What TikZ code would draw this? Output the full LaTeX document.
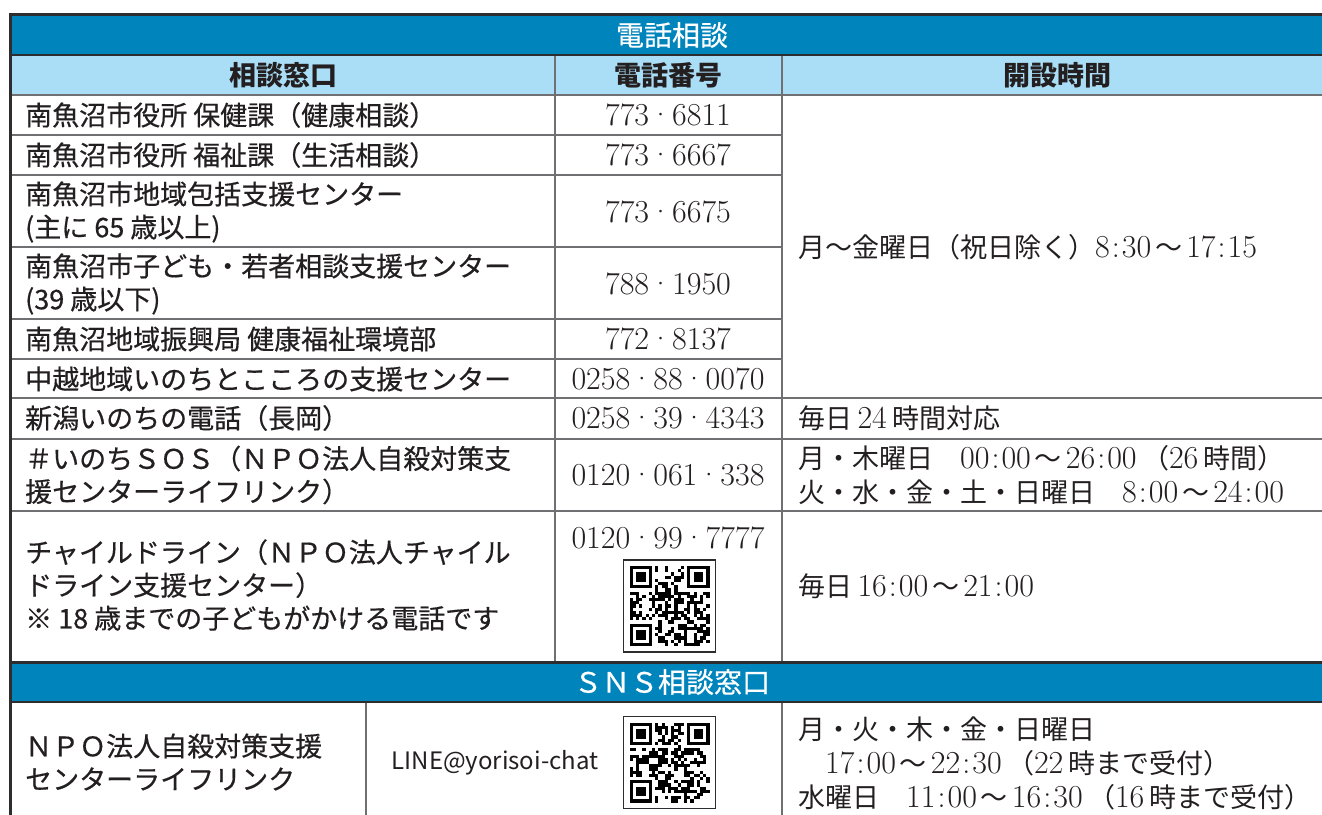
\documentclass[tikz,border=0pt]{standalone}
\usepackage{fontspec}
\newfontfamily\jpfont{Noto Sans CJK JP}
\newfontfamily\jpmed{Noto Sans CJK JP}[FakeBold=0.5]
\newcommand\jtxt[1]{{\jpfont\fontsize{27}{34}\selectfont #1}}
\newcommand\tcol{\kern2pt:\kern2pt}
\newcommand\tto{\kern4pt\jtxt{～}\kern4pt}
\definecolor{HeadClr}{RGB}{0,132,188}
\definecolor{SubHeadClr}{RGB}{170,222,247}
\definecolor{RuleClr}{RGB}{112,112,114}
\definecolor{EdgeClr}{RGB}{45,45,48}
\definecolor{InkClr}{RGB}{35,31,32}

\tikzset{
  pics/qrcode/.style={code={
    \draw[draw=EdgeClr,line width=1.2pt,fill=white] (-46,-46) rectangle (46,46);
    \foreach \i in {0,...,24}{
      \foreach \j in {0,...,24}{
        \pgfmathsetmacro\qrval{rnd}
        \pgfmathtruncatemacro\qrskip{((\i<8)&&(\j<8))||((\i>16)&&(\j<8))||((\i<8)&&(\j>16))}
        \ifnum\qrskip=0 \ifdim\qrval pt<0.5pt
          \fill[black] (-40+3.2*\i,-40+3.2*\j) rectangle ++(3.2,3.2);
        \fi\fi
      }
    }
    \foreach \a/\b in {0/0,18/0,0/18}{
      \fill[black] (-40+3.2*\a,-40+3.2*\b) rectangle ++(22.4,22.4);
      \fill[white] (-36.8+3.2*\a,-36.8+3.2*\b) rectangle ++(16,16);
      \fill[black] (-33.6+3.2*\a,-33.6+3.2*\b) rectangle ++(9.6,9.6);
    }
  }}
}

\begin{document}
\begin{tikzpicture}[x=1pt,y=-1pt,
  every node/.style={inner sep=0pt,text=InkClr},
  cell/.style={anchor=west,align=left,font=\jpmed\fontsize{27}{33}\selectfont},
  num/.style={font=\fontsize{32}{36}\selectfont},
  hours/.style={anchor=west,align=left,font=\fontsize{32}{34}\selectfont},
  headtxt/.style={font=\jpfont\bfseries\fontsize{27}{30}\selectfont},
  bandtxt/.style={text=white,font=\jpmed\fontsize{28}{30}\selectfont},
  rule/.style={draw=RuleClr,line width=2pt},
  edge/.style={draw=EdgeClr,line width=#1},
  edge/.default=2pt]
\useasboundingbox (0,0) rectangle (1322,814);

\fill[HeadClr] (10,14) rectangle (1332,55);
\fill[SubHeadClr] (10,55) rectangle (1332,95);
\fill[HeadClr] (10,662) rectangle (1332,702);

\node[bandtxt] (phone-title) at (672,35) {電話相談};
\node[headtxt] (h-window) at (283,75) {相談窓口};
\node[headtxt] (h-number) at (668,75) {電話番号};
\node[headtxt] (h-hours) at (1057,75) {開設時間};

\node[cell] (w1) at (25,115) {南魚沼市役所 保健課（健康相談）};
\node[cell] (w2) at (25,155) {南魚沼市役所 福祉課（生活相談）};
\node[cell] (w3) at (25,212) {南魚沼市地域包括支援センター\\(主に 65 歳以上)};
\node[cell] (w4) at (25,284) {南魚沼市子ども・若者相談支援センター\\(39 歳以下)};
\node[cell] (w5) at (25,339) {南魚沼地域振興局 健康福祉環境部};
\node[cell] (w6) at (25,379) {中越地域いのちとこころの支援センター};
\node[cell] (w7) at (25,418) {新潟いのちの電話（長岡）};
\node[cell] (w8) at (25,475) {＃いのちＳＯＳ（ＮＰＯ法人自殺対策支\\援センターライフリンク）};
\node[cell] (w9) at (25,585) {チャイルドライン（ＮＰＯ法人チャイル\\ドライン支援センター）\\※ 18 歳までの子どもがかける電話です};

\node[num] (p1) at (668,115) {773·6811};
\node[num] (p2) at (668,155) {773·6667};
\node[num] (p3) at (668,212) {773·6675};
\node[num] (p4) at (668,284) {788·1950};
\node[num] (p5) at (668,339) {772·8137};
\node[num] (p6) at (668,379) {0258·88·0070};
\node[num] (p7) at (668,418) {0258·39·4343};
\node[num] (p8) at (668,475) {0120·061·338};
\node[num] (p9) at (668,538) {0120·99·7777};
\pic (qr-child) at (669.5,606) {qrcode};

\node[hours] (t1) at (798,247) {\jtxt{月～金曜日（祝日除く）}8\tcol30\tto17\tcol15};
\node[hours] (t2) at (798,418) {\jtxt{毎日}\,24\,\jtxt{時間対応}};
\node[hours] (t3) at (798,475) {\jtxt{月・木曜日　}00\tcol00\tto26\tcol00\,\jtxt{（}26\,\jtxt{時間）}\\\jtxt{火・水・金・土・日曜日　}8\tcol00\tto24\tcol00};
\node[hours] (t4) at (798,586) {\jtxt{毎日}\,16\tcol00\tto21\tcol00};

\node[bandtxt] (sns-title) at (672,682) {ＳＮＳ相談窓口};
\node[cell] (sns-name) at (25,762) {ＮＰＯ法人自殺対策支援\\センターライフリンク};
\node[font=\jpfont\fontsize{24}{26}\selectfont] (sns-line) at (495,763) {LINE@yorisoi-chat};
\pgfmathsetseed{41}
\pic (qr-sns) at (669.5,762.5) {qrcode};
\node[hours] (sns-hours) at (798,763) {\jtxt{月・火・木・金・日曜日}\\\jtxt{　}17\tcol00\tto22\tcol30\,\jtxt{（}22\,\jtxt{時まで受付）}\\\jtxt{水曜日　}11\tcol00\tto16\tcol30\,\jtxt{（}16\,\jtxt{時まで受付）}};

\draw[rule] (10,95) -- (1332,95);
\foreach \y in {135,175,247,319,359}{\draw[rule] (10,\y) -- (782,\y);}
\foreach \y in {398,439,511}{\draw[rule] (10,\y) -- (1332,\y);}
\draw[rule] (555,55) -- (555,662);
\draw[rule] (782,55) -- (782,662);
\draw[rule] (366,702) -- (366,830);
\draw[rule] (782,702) -- (782,830);

\draw[edge=1.5pt] (10,55) -- (1332,55);
\draw[edge=3pt] (10,662) -- (1332,662);
\draw[edge=2pt] (10,702) -- (1332,702);
\draw[edge=3pt] (8.5,14) -- (1332,14);
\draw[edge=3pt] (10,12.5) -- (10,830);
\end{tikzpicture}
\end{document}
